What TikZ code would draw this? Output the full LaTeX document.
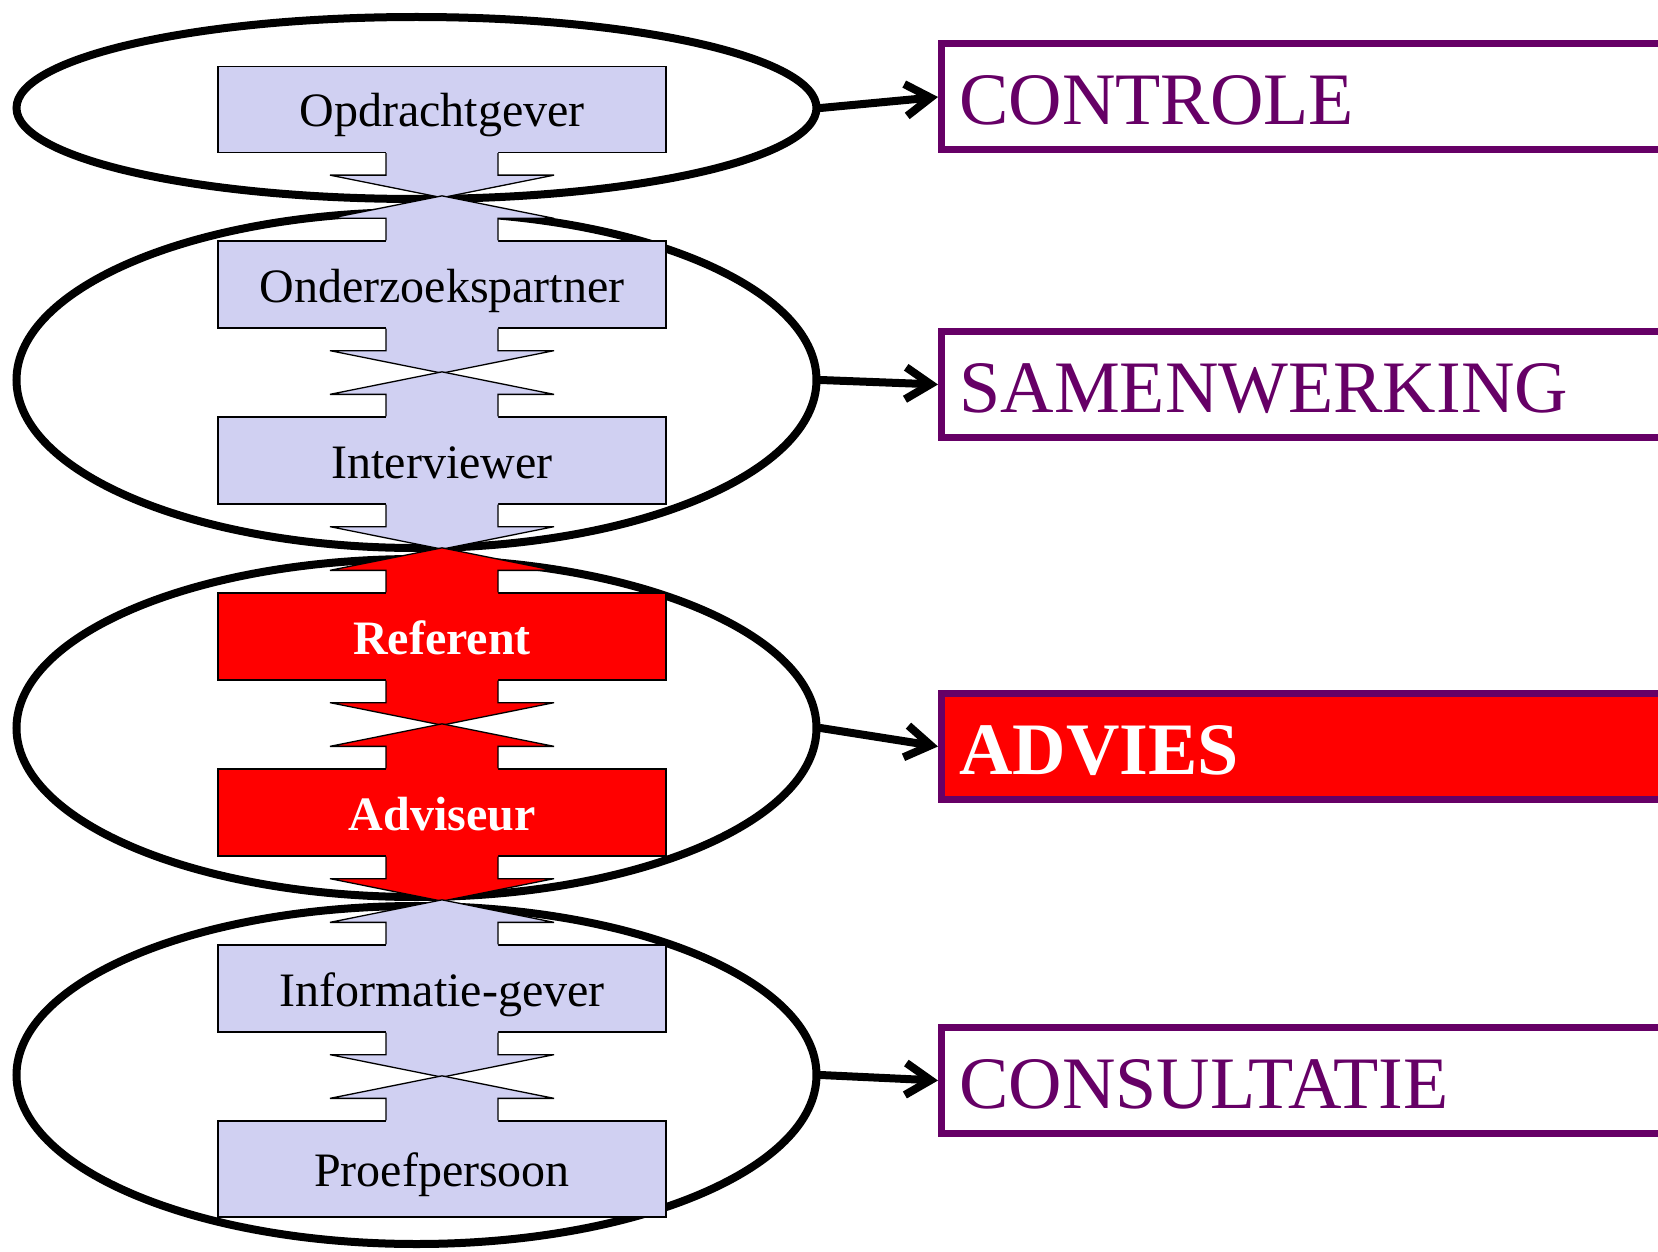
\documentclass[tikz,border=0pt]{standalone}
\usepackage{fontspec}
\setmainfont{Liberation Serif}
\usetikzlibrary{shapes.geometric, arrows.meta}

\definecolor{lavender}{RGB}{208,208,242}
\definecolor{plum}{RGB}{102,0,102}

\tikzset{
    role/.style={draw, line width=1.3pt, fill=lavender, minimum width=448pt, inner sep=0pt,
        text height=35pt, text depth=0pt, font=\fontsize{48}{56}\selectfont},
    keyrole/.style={role, fill=red, text=white, font=\fontsize{48}{56}\selectfont\bfseries},
    band/.style={ellipse, draw, line width=8pt, minimum width=800pt, inner sep=0pt},
    outcome/.style={draw=plum, line width=7pt, text=plum, anchor=west, minimum height=106pt,
        text width=900pt, inner xsep=18pt, inner ysep=0pt, align=left,
        text height=55pt, text depth=0pt, font=\fontsize{74}{80}\selectfont},
    link/.style={line width=8pt, line cap=round, line join=round,
        -{Straight Barb[length=25pt, width=32pt]}}
}

\begin{document}
\begin{tikzpicture}[x=1pt, y=-1pt]
    \newcommand{\handle}[3]{
        \begin{scope}[shift={(#1)}, yscale=#2]
            \fill[#3] (-56,-2) -- (-56,22) -- (-112,22) -- (0,44.5) -- (112,22) -- (56,22) -- (56,-2) -- cycle;
            \draw[line width=1.3pt] (-56,0) -- (-56,22) -- (-112,22) -- (0,44.5) -- (112,22) -- (56,22) -- (56,0);
        \end{scope}
    }
    \clip (0,0) rectangle (1658,1252);

    \foreach \name/\y/\h in {e1/108/182, e2/380/336, e3/728/338, e4/1075/338} {
        \node[band, minimum height=\h] (\name) at (416.5,\y) {};
    }

    \foreach \name/\y/\h/\kind/\txt in {b1/109.5/86/role/Opdrachtgever, b2/284.5/87/role/Onderzoekspartner,
        b3/460.5/87/role/Interviewer, b4/636.5/87/keyrole/Referent, b5/812.5/87/keyrole/Adviseur,
        b6/988.5/87/role/Informatie-gever, b7/1169/96/role/Proefpersoon} {
        \node[\kind, minimum height=\h] (\name) at (442,\y) {\txt};
    }

    \foreach \a/\b/\ca/\cb in {b1/b2/lavender/lavender, b2/b3/lavender/lavender, b3/b4/lavender/red,
        b4/b5/red/red, b5/b6/red/lavender, b6/b7/lavender/lavender} {
        \handle{\a.south}{1}{\ca}
        \handle{\b.north}{-1}{\cb}
    }

    \node[outcome] (controle) at (938,97) {CONTROLE};
    \node[outcome] (samenwerking) at (938,384.5) {SAMENWERKING};
    \node[outcome, fill=red, text=white, font=\fontsize{74}{80}\selectfont\bfseries] (advies) at (938,746.5) {ADVIES};
    \node[outcome] (consultatie) at (938,1080.5) {CONSULTATIE};

    \foreach \a/\b in {e1/controle, e2/samenwerking, e3/advies, e4/consultatie} {
        \draw[link] (\a.east) -- (\b.west);
    }
\end{tikzpicture}
\end{document}
